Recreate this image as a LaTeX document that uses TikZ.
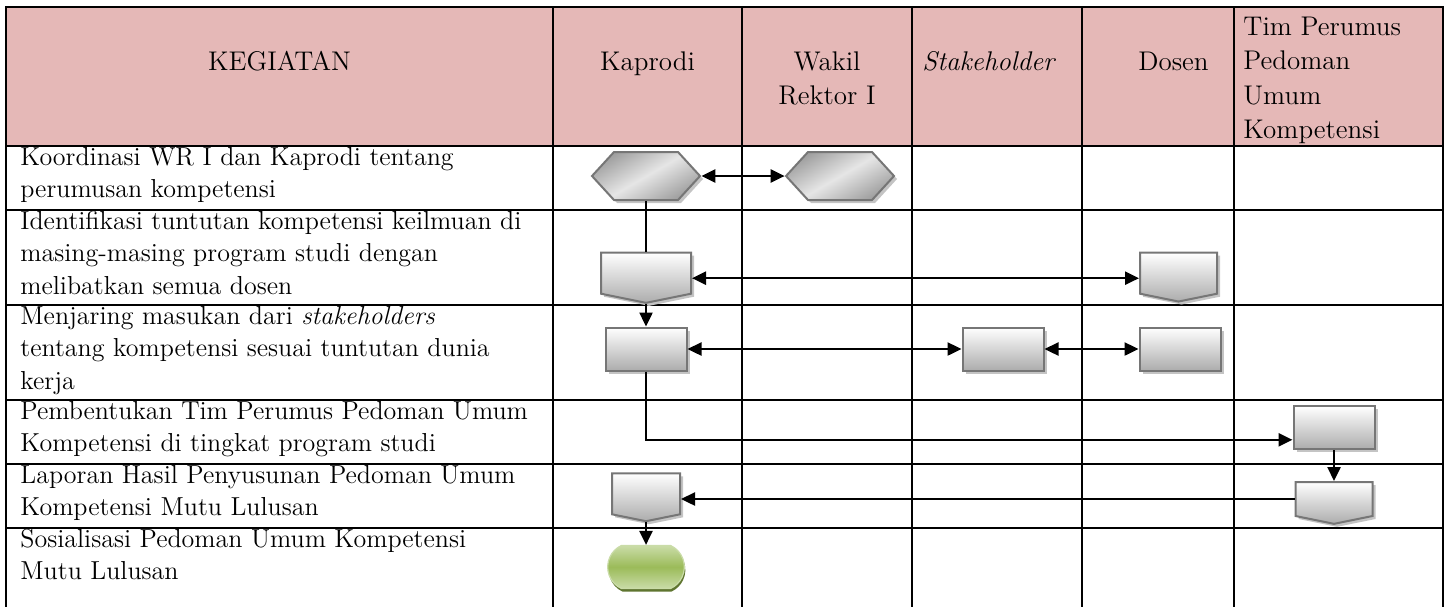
\documentclass[tikz,border=0pt]{standalone}
\usepackage{fontspec}
\usepackage{xcolor}
\usepackage{tikz}
\usetikzlibrary{shapes.symbols, shapes.misc, arrows.meta, shadows, positioning}

\definecolor{headpink}{HTML}{E5B8B7}
\definecolor{shapeline}{HTML}{767676}
\definecolor{shadowgray}{HTML}{C4C4C4}
\definecolor{greenmid}{HTML}{9BBB59}
\definecolor{greenlight}{HTML}{CADCA8}
\definecolor{greendark}{HTML}{5F7530}

\begin{document}
\begin{tikzpicture}[
    x=0.5pt, y=-0.5pt,
    grid/.style={line width=1.3pt, line cap=rect},
    txt/.style={anchor=base west, align=left, inner sep=0pt, font=\fontsize{13}{16.25}\selectfont},
    head/.style={anchor=base, align=center, inner sep=0pt, font=\fontsize{13.5}{17.25}\selectfont},
    flow/.style={draw=shapeline, line width=1pt, inner sep=0pt, top color=white, bottom color=gray!65,
        drop shadow={shadow xshift=1.5pt, shadow yshift=-1.5pt, fill=shadowgray, opacity=1}},
    procbox/.style={flow, rectangle, minimum width=40.5pt, minimum height=21.5pt},
    pentbox/.style={flow, signal, signal to=south, signal pointer angle=157, anchor=north},
    hexbox/.style={flow, signal, signal to=east and west, signal pointer angle=95,
        minimum width=54pt, minimum height=24pt,
        top color=gray!75, bottom color=gray!75, middle color=gray!20, shading angle=30},
    endbox/.style={rounded rectangle, rounded rectangle arc length=130, draw=greenlight, line width=0.6pt,
        minimum width=45pt, minimum height=21.5pt,
        top color=greenlight, bottom color=greenlight, middle color=greenmid,
        drop shadow={shadow xshift=0.5pt, shadow yshift=-1.5pt, fill=greendark, opacity=1}},
    arrow/.style={-{Triangle[length=7pt, width=6.5pt]}, line width=1.2pt},
    dblarrow/.style={{Triangle[length=7pt, width=6.5pt]}-{Triangle[length=7pt, width=6.5pt]}, line width=1.2pt}
]
\useasboundingbox (0,0) rectangle (1444,606);

% Table
\fill[headpink] (6,7) rectangle (1443,146);
\foreach \x in {6,553,742,912,1082,1234,1443}
    \draw[grid] (\x,7) -- (\x,606);
\foreach \y in {7,146,210,305,400,464,528}
    \draw[grid] (6,\y) -- (1443,\y);

% Header (base = last line)
\node[head] (hkeg) at (279.5,70) {KEGIATAN};
\node[head] (hkap) at (647.5,70) {Kaprodi};
\node[head] (hwr) at (827,104.5) {Wakil\\Rektor I};
\node[head, anchor=base west] (hstk) at (922,70) {\itshape Stakeholder};
\node[head] (hdos) at (1173.5,70) {Dosen};
\node[head, anchor=base west, align=left] (htim) at (1243,138.5) {Tim Perumus\\Pedoman\\Umum\\Kompetensi};

% Activities (base = last line)
\node[txt] (r1) at (20,197.5) {Koordinasi WR I dan Kaprodi tentang\\perumusan kompetensi};
\node[txt] (r2) at (20,294) {Identifikasi tuntutan kompetensi keilmuan di\\masing-masing program studi dengan\\melibatkan semua dosen};
\node[txt] (r3) at (20,389) {Menjaring masukan dari \textit{stakeholders}\\tentang kompetensi sesuai tuntutan dunia\\kerja};
\node[txt] (r4) at (20,451.5) {Pembentukan Tim Perumus Pedoman Umum\\Kompetensi di tingkat program studi};
\node[txt] (r5) at (20,515.5) {Laporan Hasil Penyusunan Pedoman Umum\\Kompetensi Mutu Lulusan};
\node[txt] (r6) at (20,579.5) {Sosialisasi Pedoman Umum Kompetensi\\Mutu Lulusan};

% Flow shapes
\node[hexbox] (k1) at (646,176) {};
\node[hexbox] (w1) at (840,176) {};
\node[pentbox, minimum width=45pt, minimum height=20.5pt] (k2) at (646,251.7) {};
\node[pentbox, minimum width=38.5pt, minimum height=20.5pt] (d2) at (1178.5,251.7) {};
\node[procbox] (k3) at (646,349) {};
\node[procbox] (s3) at (1003,349) {};
\node[procbox] (d3) at (1180,349) {};
\node[procbox] (t4) at (1334,427.7) {};
\node[pentbox, minimum width=38.5pt, minimum height=17pt] (t5) at (1334,481) {};
\node[pentbox, minimum width=34pt, minimum height=20.5pt] (k5) at (646,472.3) {};
\node[endbox] (g6) at (646,567) {};

% Arrows
\draw[dblarrow] (k1) -- (w1);
\draw[line width=1.2pt] (k1) -- (k2);
\draw[dblarrow] ([yshift=-2.5pt]k2.east) -- ([yshift=-2.5pt]d2.west);
\draw[arrow] (k2.south) -- (k3.north);
\draw[dblarrow] (k3) -- (s3);
\draw[dblarrow] (s3) -- (d3);
\draw[arrow] (k3.south) |- ([yshift=5.2pt]t4.south west);
\draw[arrow] (t4) -- (t5);
\draw[arrow] (t5.west) -- (t5.west -| k5.east);
\draw[arrow] (k5.south) -- (g6.north);

\end{tikzpicture}
\end{document}
